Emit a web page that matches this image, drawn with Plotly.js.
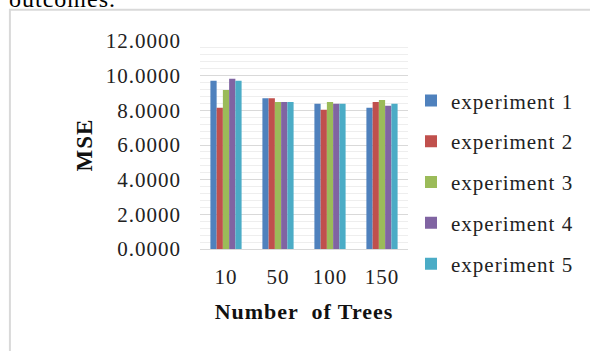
<!DOCTYPE html>
<html>
<head>
<meta charset="utf-8">
<script src="https://cdn.plot.ly/plotly-3.0.1.min.js"></script>
<style>
html,body{margin:0;padding:0;background:#fff;}
#chart{width:590px;height:351px;}
text{letter-spacing:1px;}
</style>
</head>
<body>
<div id="chart"></div>
<script>
var categories = ["10", "50", "100", "150"];
var seriesNames = ["experiment 1", "experiment 2", "experiment 3", "experiment 4", "experiment 5"];
var exp1 = [9.70, 8.69, 8.38, 8.15];
var exp2 = [8.15, 8.69, 8.04, 8.48];
var exp3 = [9.17, 8.48, 8.48, 8.59];
var exp4 = [9.82, 8.48, 8.38, 8.27];
var exp5 = [9.70, 8.48, 8.38, 8.38];
var yTickVals = [0, 2, 4, 6, 8, 10, 12];
var yTickText = ["0.0000", "2.0000", "4.0000", "6.0000", "8.0000", "10.0000", "12.0000"];
var seriesValues = [exp1, exp2, exp3, exp4, exp5];
var colors = ["#4F81BD", "#C0504D", "#9BBB59", "#8064A2", "#4BACC6"];

var serif = '"Liberation Serif", "Times New Roman", serif';

var traces = seriesValues.map(function (vals, i) {
  return {
    type: "bar",
    name: seriesNames[i],
    x: categories,
    y: vals,
    marker: {color: colors[i]},
    legendgroup: "g" + i
  };
});

// plot area: x 200..409, y 40.5..249.5 (px)
var L = 200, R = 409, T = 40.5, B = 249.5;
var pw = R - L, ph = B - T;
function px(x) { return (x - L) / pw; }
function py(y) { return (B - y) / ph; }

var layout = {
  width: 590,
  height: 351,
  margin: {l: L, r: 590 - R, t: T, b: 351 - B, pad: 0},
  paper_bgcolor: "#ffffff",
  plot_bgcolor: "#ffffff",
  barmode: "group",
  bargap: 0.4,
  bargroupgap: 0,
  showlegend: true,
  font: {family: serif, color: "#222222", size: 21},
  xaxis: {
    type: "category",
    tickfont: {family: serif, size: 21, color: "#222222"},
    showgrid: false,
    showline: true,
    linecolor: "#d9d9d9",
    linewidth: 1,
    ticks: "",
    ticklabelstandoff: 9,
    title: {text: "Number  of Trees", font: {family: serif, size: 22, color: "#111111", weight: "bold"}, standoff: 15}
  },
  yaxis: {
    range: [0, 12],
    tickvals: yTickVals,
    ticktext: yTickText,
    tickfont: {family: serif, size: 21, color: "#222222"},
    showgrid: true,
    gridcolor: "#d9d9d9",
    gridwidth: 1,
    zeroline: false,
    showline: false,
    ticks: "",
    ticklabelstandoff: 18,
    minor: {dtick: 0.4, showgrid: true, gridcolor: "#eeeeee", gridwidth: 1},
    title: {text: "MSE", font: {family: serif, size: 23, color: "#111111", weight: "bold"}, standoff: 6}
  },
  legend: {
    x: px(411),
    xanchor: "left",
    y: py(80),
    yanchor: "top",
    traceorder: "grouped",
    tracegroupgap: 10.5,
    font: {family: serif, size: 21, color: "#222222"},
    bgcolor: "rgba(0,0,0,0)",
    itemwidth: 30
  },
  shapes: [{
    type: "rect", xref: "paper", yref: "paper",
    x0: px(9), x1: px(700), y0: py(500), y1: py(9),
    line: {color: "#d9d9d9", width: 2},
    fillcolor: "rgba(0,0,0,0)",
    layer: "below"
  }],
  annotations: [{
    text: "outcomes.",
    xref: "paper", yref: "paper",
    x: px(6), y: py(13),
    xanchor: "left", yanchor: "bottom",
    showarrow: false,
    font: {family: serif, size: 24, color: "#000000"}
  }]
};

Plotly.newPlot("chart", traces, layout, {displayModeBar: false, staticPlot: true});
</script>
</body>
</html>
